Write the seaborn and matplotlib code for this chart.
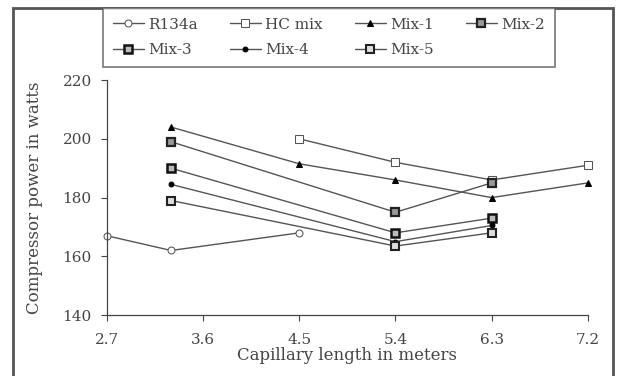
import matplotlib
matplotlib.use('Agg')
import pandas as pd
import numpy as np
import seaborn as sns
import matplotlib.pyplot as plt
from matplotlib.patches import Rectangle

# data
series = ['R134a', 'HC mix', 'Mix-1', 'Mix-2', 'Mix-3', 'Mix-4', 'Mix-5']
x_r134a = [2.7, 3.3, 4.5]
y_r134a = [167, 162, 168]
x_hc = [4.5, 5.4, 6.3, 7.2]
y_hc = [200, 192, 186, 191]
x_mix1 = [3.3, 4.5, 5.4, 6.3, 7.2]
y_mix1 = [204, 191.5, 186, 180, 185]
x_mix = [3.3, 5.4, 6.3]
y_mix2 = [199, 175, 185]
y_mix3 = [190, 168, 173]
y_mix4 = [184.5, 165, 170.5]
y_mix5 = [179, 163.5, 168]
x_ticks = [2.7, 3.6, 4.5, 5.4, 6.3, 7.2]
y_ticks = [140, 160, 180, 200, 220]

rows = []
for name, xs, ys in zip(series,
                        [x_r134a, x_hc, x_mix1, x_mix, x_mix, x_mix, x_mix],
                        [y_r134a, y_hc, y_mix1, y_mix2, y_mix3, y_mix4, y_mix5]):
    for a, b in zip(xs, ys):
        rows.append({'series': name, 'length': a, 'power': b})
df = pd.DataFrame(rows)

sns.set_style('ticks')
plt.rcParams['font.family'] = ['DejaVu Serif', 'Liberation Serif']

# marker styles per series
styles = {
    'R134a': dict(marker='o', markersize=5, markerfacecolor='white', markeredgecolor='#555555'),
    'HC mix': dict(marker='s', markersize=6, markerfacecolor='white', markeredgecolor='#555555'),
    'Mix-1': dict(marker='^', markersize=5, markerfacecolor='black', markeredgecolor='black'),
    'Mix-2': dict(marker='s', markersize=6, markerfacecolor='#999999', markeredgecolor='#222222', markeredgewidth=1.6),
    'Mix-3': dict(marker='s', markersize=6, markerfacecolor='#bbbbbb', markeredgecolor='#111111', markeredgewidth=1.8),
    'Mix-4': dict(marker='o', markersize=3.5, markerfacecolor='black', markeredgecolor='black'),
    'Mix-5': dict(marker='s', markersize=6, markerfacecolor='#dddddd', markeredgecolor='#222222', markeredgewidth=1.5),
}

fig = plt.figure(figsize=(6.22, 3.76), dpi=100)
ax = fig.add_axes([0.172, 0.162, 0.773, 0.625])

for name in series:
    sub = df[df['series'] == name]
    sns.lineplot(data=sub, x='length', y='power', ax=ax, color='#555555',
                 linewidth=1.0, label=name, clip_on=False, **styles[name])

ax.set_xlim(2.7, 7.2)
ax.set_ylim(140, 220)
ax.set_xticks(x_ticks)
ax.set_xticklabels([f'{t:.1f}' for t in x_ticks])
ax.set_yticks(y_ticks)
ax.spines['top'].set_visible(False)
ax.spines['right'].set_visible(False)
for s in ['left', 'bottom']:
    ax.spines[s].set_color('#444444')
    ax.spines[s].set_linewidth(0.9)
ax.tick_params(colors='#444444', labelcolor='#444444', labelsize=11, length=4, direction='out')
ax.tick_params(axis='x', pad=9)
ax.tick_params(axis='y', pad=7)
ax.set_xlabel('Capillary length in meters', fontsize=12, color='#444444', labelpad=0)
ax.set_ylabel('Compressor power in watts', fontsize=12, color='#444444', labelpad=14)

handles, labels = ax.get_legend_handles_labels()
ax.legend_.remove()
# legend fills column by column: reorder so it reads row by row
order = [0, 4, 1, 5, 2, 6, 3]
leg = fig.legend([handles[i] for i in order], [labels[i] for i in order],
                 ncol=4, loc='upper left',
                 bbox_to_anchor=(0.166, 0.819, 0.726, 0.16), mode='expand',
                 borderaxespad=0, fontsize=11, frameon=True, fancybox=False,
                 edgecolor='#555555', handlelength=2.0, handletextpad=0.3,
                 columnspacing=0.8, borderpad=0.65, labelspacing=0.75)
leg.get_frame().set_linewidth(1.2)
for t in leg.get_texts():
    t.set_color('#444444')

# outer frame around the figure
fig.patches.append(Rectangle((0.021, -0.05), 0.965, 1.029, transform=fig.transFigure,
                             fill=False, edgecolor='#555555', linewidth=2.0, zorder=-1))

fig.savefig('out.png', dpi=100)
